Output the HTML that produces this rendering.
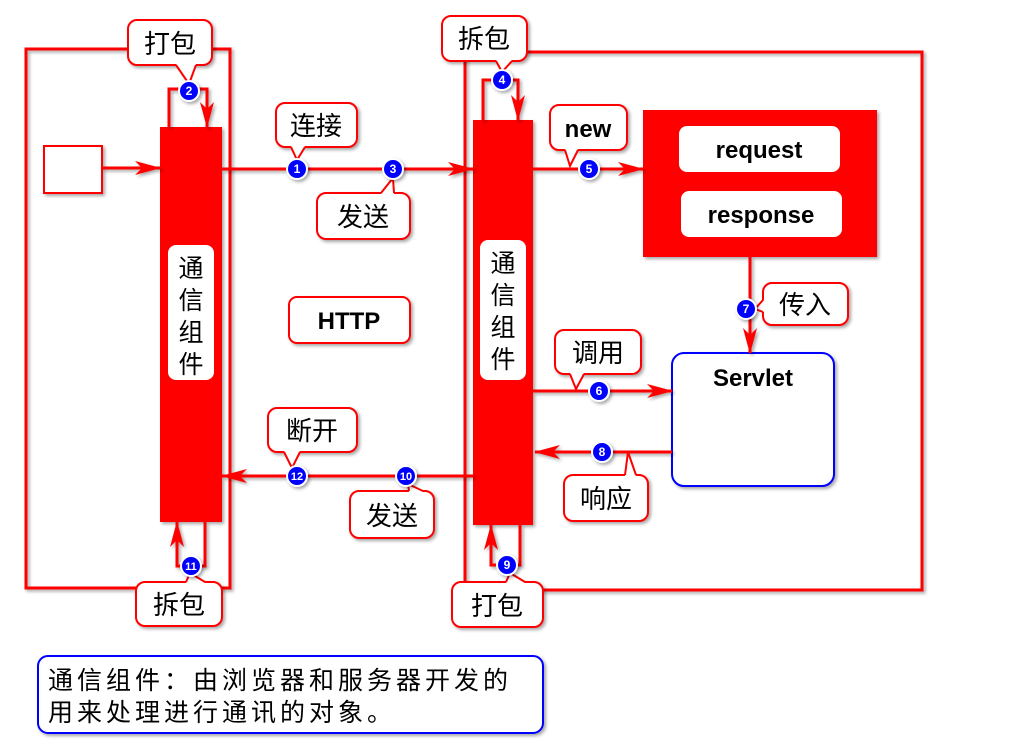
<!DOCTYPE html>
<html><head><meta charset="utf-8"><style>
html,body{margin:0;padding:0;background:#fff;}
svg{display:block;}
.cj{font-family:"Liberation Sans","Noto Sans CJK SC",sans-serif;}
</style></head><body>
<svg width="1024" height="754" viewBox="0 0 1024 754" xmlns="http://www.w3.org/2000/svg" class="cj">
<defs>
<filter id="sh" x="-10%" y="-10%" width="130%" height="130%"><feDropShadow dx="2" dy="2" stdDeviation="1.5" flood-color="#000" flood-opacity="0.35"/></filter>
<marker id="ar" viewBox="0 0 26 14" refX="25" refY="7" markerWidth="26" markerHeight="14" markerUnits="userSpaceOnUse" orient="auto"><path d="M0,0 L26,7 L0,14 L7,7 z" fill="#f00"/></marker>
</defs>
<g filter="url(#sh)">
<rect x="26" y="49" width="204" height="539" fill="none" stroke="#f00" stroke-width="3"/>
<rect x="465" y="52" width="457" height="538" fill="none" stroke="#f00" stroke-width="3"/>
<rect x="160" y="127" width="62" height="395" fill="#f00"/>
<rect x="473" y="120" width="60" height="405" fill="#f00"/>
<rect x="44" y="146" width="58" height="47" fill="#fff" stroke="#f00" stroke-width="2"/>
<rect x="643" y="110" width="234" height="147" fill="#f00"/>
<rect x="672" y="353" width="162" height="133" rx="12" fill="#fff" stroke="#00f" stroke-width="2"/>
<rect x="289" y="297" width="121" height="46" rx="8" fill="#fff" stroke="#f00" stroke-width="2"/>
<rect x="38" y="656" width="505" height="77" rx="10" fill="#fff" stroke="#00f" stroke-width="2"/>
</g>
<g fill="#fff">
<rect x="168" y="245" width="46" height="135" rx="8"/>
<rect x="480" y="240" width="46" height="140" rx="8"/>
<rect x="679" y="126" width="161" height="46" rx="8"/>
<rect x="681" y="191" width="161" height="46" rx="8"/>
</g>
<g font-size="25" fill="#000" text-anchor="middle">
<text x="191" y="277">通</text><text x="191" y="309">信</text><text x="191" y="341">组</text><text x="191" y="373">件</text>
<text x="503" y="272">通</text><text x="503" y="304">信</text><text x="503" y="336">组</text><text x="503" y="368">件</text>
</g>
<g font-weight="bold" font-size="24" text-anchor="middle" fill="#000">
<text x="759" y="158">request</text>
<text x="761" y="223">response</text>
<text x="349" y="329">HTTP</text>
<text x="753" y="386">Servlet</text>
</g>
<g stroke="#f00" stroke-width="3" fill="none" filter="url(#sh)">
<line x1="102" y1="168" x2="160" y2="168" marker-end="url(#ar)"/>
<line x1="222" y1="169" x2="473" y2="169" marker-end="url(#ar)"/>
<line x1="533" y1="169" x2="643" y2="169" marker-end="url(#ar)"/>
<line x1="533" y1="391" x2="672" y2="391" marker-end="url(#ar)"/>
<line x1="672" y1="452" x2="535" y2="452" marker-end="url(#ar)"/>
<line x1="473" y1="476" x2="222" y2="476" marker-end="url(#ar)"/>
<line x1="750" y1="257" x2="750" y2="353" marker-end="url(#ar)"/>
<polyline points="169,127 169,89 207,89 207,127" marker-end="url(#ar)"/>
<polyline points="483,120 483,80 518,80 518,120" marker-end="url(#ar)"/>
<polyline points="205,522 205,566 177,566 177,522" marker-end="url(#ar)"/>
<polyline points="520,525 520,565 491,565 491,525" marker-end="url(#ar)"/>
</g>
<g filter="url(#sh)" stroke="#f00" stroke-width="2" fill="#fff">
<rect x="128" y="20" width="84" height="45" rx="9"/>
<rect x="276" y="103" width="81" height="44" rx="9"/>
<rect x="317" y="193" width="93" height="46" rx="9"/>
<rect x="442" y="16" width="85" height="45" rx="9"/>
<rect x="550" y="105" width="77" height="45" rx="9"/>
<rect x="763" y="283" width="85" height="42" rx="9"/>
<rect x="555" y="330" width="86" height="44" rx="9"/>
<rect x="564" y="475" width="84" height="46" rx="9"/>
<rect x="268" y="408" width="89" height="44" rx="9"/>
<rect x="350" y="491" width="84" height="47" rx="9"/>
<rect x="136" y="582" width="86" height="44" rx="9"/>
<rect x="452" y="582" width="91" height="45" rx="9"/>
</g>
<g fill="#fff" stroke="none">
<polygon points="176,64 196,64 189,84"/><polygon points="291,146 305,146 297,160"/>
<polygon points="381,194 394,194 393,178"/><polygon points="496,60 512,60 502,72"/>
<polygon points="565,149 578,149 570,166"/><polygon points="764,300 764,312 755,309"/>
<polygon points="570,373 584,373 576,389"/><polygon points="625,476 636,476 628,452"/>
<polygon points="284,451 300,451 292,468"/><polygon points="409,492 423,492 408,484"/>
<polygon points="186,583 205,583 190,573"/><polygon points="506,583 525,583 510,573"/>
</g>
<g fill="none" stroke="#f00" stroke-width="2">
<polyline points="176,65 189,84 196,65"/><polyline points="291,147 297,160 305,147"/>
<polyline points="381,193 393,178 394,193"/><polyline points="496,61 502,72 512,61"/>
<polyline points="565,150 570,166 578,150"/><polyline points="763,300 755,309 763,312"/>
<polyline points="570,374 576,389 584,374"/><polyline points="625,475 628,452 636,475"/>
<polyline points="284,452 292,468 300,452"/><polyline points="409,491 408,484 423,491"/>
<polyline points="186,582 190,573 205,582"/><polyline points="506,582 510,573 525,582"/>
</g>
<g font-size="26" fill="#000" text-anchor="middle">
<text x="170" y="53">打包</text><text x="316" y="135">连接</text><text x="363" y="226">发送</text>
<text x="484" y="48">拆包</text><text x="805" y="314">传入</text><text x="598" y="362">调用</text>
<text x="606" y="508">响应</text><text x="312" y="440">断开</text><text x="392" y="525">发送</text>
<text x="179" y="614">拆包</text><text x="497" y="615">打包</text>
<text x="588" y="137" font-weight="bold" font-size="24">new</text>
</g>
<g font-size="25" fill="#000">
<text x="48" y="689" letter-spacing="4">通信组件：由浏览器和服务器开发的</text>
<text x="48" y="721" letter-spacing="4">用来处理进行通讯的对象。</text>
</g>
<g filter="url(#sh)" fill="#00f" stroke="#fff" stroke-width="2">
<circle cx="189" cy="91" r="10"/><circle cx="297" cy="169" r="10"/><circle cx="393" cy="169" r="10"/>
<circle cx="502" cy="80" r="10"/><circle cx="589" cy="169" r="10"/><circle cx="599" cy="391" r="10"/>
<circle cx="746" cy="309" r="10"/><circle cx="602" cy="452" r="10"/><circle cx="507" cy="565" r="10"/>
<circle cx="406" cy="476" r="10"/><circle cx="191" cy="566" r="10"/><circle cx="297" cy="476" r="10"/>
</g>
<g font-size="12" font-weight="bold" fill="#fff" text-anchor="middle" font-family="Liberation Sans,sans-serif">
<text x="189" y="95">2</text><text x="297" y="173">1</text><text x="393" y="173">3</text>
<text x="502" y="84">4</text><text x="589" y="173">5</text><text x="599" y="395">6</text>
<text x="746" y="313">7</text><text x="602" y="456">8</text><text x="507" y="569">9</text>
<text x="406" y="480" font-size="11">10</text><text x="191" y="570" font-size="11">11</text><text x="297" y="480" font-size="11">12</text>
</g>
</svg>
</body></html>
